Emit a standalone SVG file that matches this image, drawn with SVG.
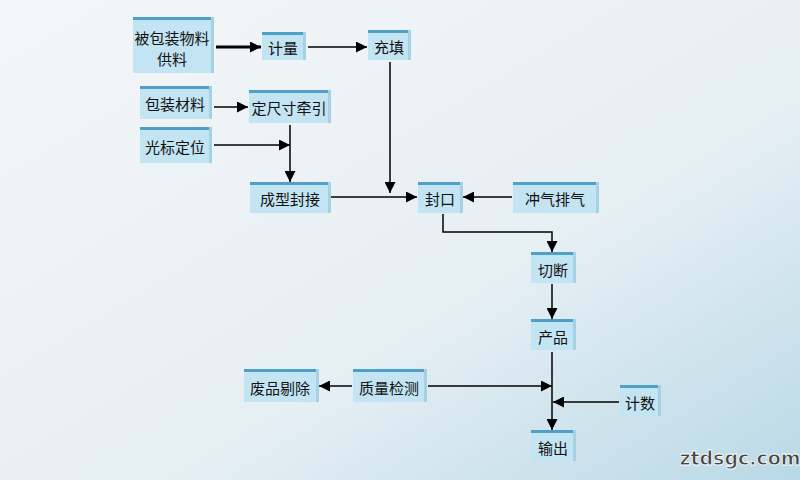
<svg xmlns="http://www.w3.org/2000/svg" width="800" height="480" viewBox="0 0 800 480">
<defs>
<linearGradient id="bg" x1="0" y1="0" x2="1" y2="1"><stop offset="0" stop-color="#f4f6f8"/><stop offset="0.6" stop-color="#e6eff4"/><stop offset="1" stop-color="#b9d9e6"/></linearGradient>
<marker id="a" viewBox="0 0 10 10" refX="10" refY="5" markerWidth="11" markerHeight="11" markerUnits="userSpaceOnUse" orient="auto"><path d="M0,0L10,5L0,10z" fill="#000"/></marker>
</defs>
<style>
.b{fill:#c3e4f3;stroke:none}
.t{fill:#4f9fc6}
.r{fill:#a6d0e3}
text{font-family:"Noto Sans CJK SC",sans-serif;font-size:15px;fill:#111;text-anchor:middle;dominant-baseline:central}
.c{stroke:#000;stroke-width:1.5;fill:none;marker-end:url(#a)}
</style>
<rect width="800" height="480" fill="url(#bg)"/>
<g id="n1"><rect class="b" x="133" y="19" width="80" height="54"/><rect class="t" x="133" y="17" width="80" height="3"/><rect class="r" x="211" y="17" width="3" height="56"/><text x="172" y="37">被包装物料</text><text x="172" y="58">供料</text></g>
<g id="n2"><rect class="b" x="262" y="34" width="43" height="26"/><rect class="t" x="262" y="32" width="43" height="3"/><rect class="r" x="303" y="32" width="3" height="28"/><text x="283" y="47">计量</text></g>
<g id="n3"><rect class="b" x="368" y="32" width="42" height="28"/><rect class="t" x="368" y="30" width="42" height="3"/><rect class="r" x="408" y="30" width="3" height="30"/><text x="389" y="46">充填</text></g>
<g id="n4"><rect class="b" x="140" y="88" width="71" height="31"/><rect class="t" x="140" y="86" width="71" height="3"/><rect class="r" x="209" y="86" width="3" height="33"/><text x="175" y="103">包装材料</text></g>
<g id="n5"><rect class="b" x="249" y="92" width="81" height="31"/><rect class="t" x="249" y="90" width="81" height="3"/><rect class="r" x="328" y="90" width="3" height="33"/><text x="289" y="107">定尺寸牵引</text></g>
<g id="n6"><rect class="b" x="140" y="129" width="71" height="34"/><rect class="t" x="140" y="127" width="71" height="3"/><rect class="r" x="209" y="127" width="3" height="36"/><text x="175" y="146">光标定位</text></g>
<g id="n7"><rect class="b" x="250" y="184" width="80" height="29"/><rect class="t" x="250" y="182" width="80" height="3"/><rect class="r" x="328" y="182" width="3" height="31"/><text x="290" y="198">成型封接</text></g>
<g id="n8"><rect class="b" x="418" y="184" width="44" height="29"/><rect class="t" x="418" y="182" width="44" height="3"/><rect class="r" x="460" y="182" width="3" height="31"/><text x="440" y="198">封口</text></g>
<g id="n9"><rect class="b" x="513" y="184" width="85" height="29"/><rect class="t" x="513" y="182" width="85" height="3"/><rect class="r" x="596" y="182" width="3" height="31"/><text x="555" y="198">冲气排气</text></g>
<g id="n10"><rect class="b" x="531" y="254" width="44" height="29"/><rect class="t" x="531" y="252" width="44" height="3"/><rect class="r" x="573" y="252" width="3" height="31"/><text x="553" y="269">切断</text></g>
<g id="n11"><rect class="b" x="531" y="321" width="44" height="29"/><rect class="t" x="531" y="319" width="44" height="3"/><rect class="r" x="573" y="319" width="3" height="31"/><text x="553" y="336">产品</text></g>
<g id="n12"><rect class="b" x="244" y="371" width="74" height="31"/><rect class="t" x="244" y="369" width="74" height="3"/><rect class="r" x="316" y="369" width="3" height="33"/><text x="280" y="387">废品剔除</text></g>
<g id="n13"><rect class="b" x="353" y="371" width="73" height="31"/><rect class="t" x="353" y="369" width="73" height="3"/><rect class="r" x="424" y="369" width="3" height="33"/><text x="389" y="387">质量检测</text></g>
<g id="n14"><rect class="b" x="620" y="387" width="40" height="29"/><rect class="t" x="620" y="385" width="40" height="3"/><rect class="r" x="658" y="385" width="3" height="31"/><text x="640" y="402">计数</text></g>
<g id="n15"><rect class="b" x="531" y="432" width="44" height="29"/><rect class="t" x="531" y="430" width="44" height="3"/><rect class="r" x="573" y="430" width="3" height="31"/><text x="553" y="447">输出</text></g>
<g id="connectors">
<path class="c" d="M216,47H261" style="stroke-width:3"/>
<path class="c" d="M308,47H367"/>
<path class="c" d="M390,62V193"/>
<path class="c" d="M331,197H417"/>
<path class="c" d="M214,107H248"/>
<path class="c" d="M214,145H290"/>
<path class="c" d="M290,125V182"/>
<path class="c" d="M512,197H463"/>
<path class="c" d="M443,214V232H552V252"/>
<path class="c" d="M552,284V319"/>
<path class="c" d="M552,352V430"/>
<path class="c" d="M428,386H552"/>
<path class="c" d="M619,402H553"/>
<path class="c" d="M352,386H319"/>
</g>
<text x="740" y="458" style="font-family:'DejaVu Sans',sans-serif;font-size:19px;font-weight:bold;fill:#444;stroke:#fff;stroke-width:0.8">ztdsgc.com</text>
</svg>
